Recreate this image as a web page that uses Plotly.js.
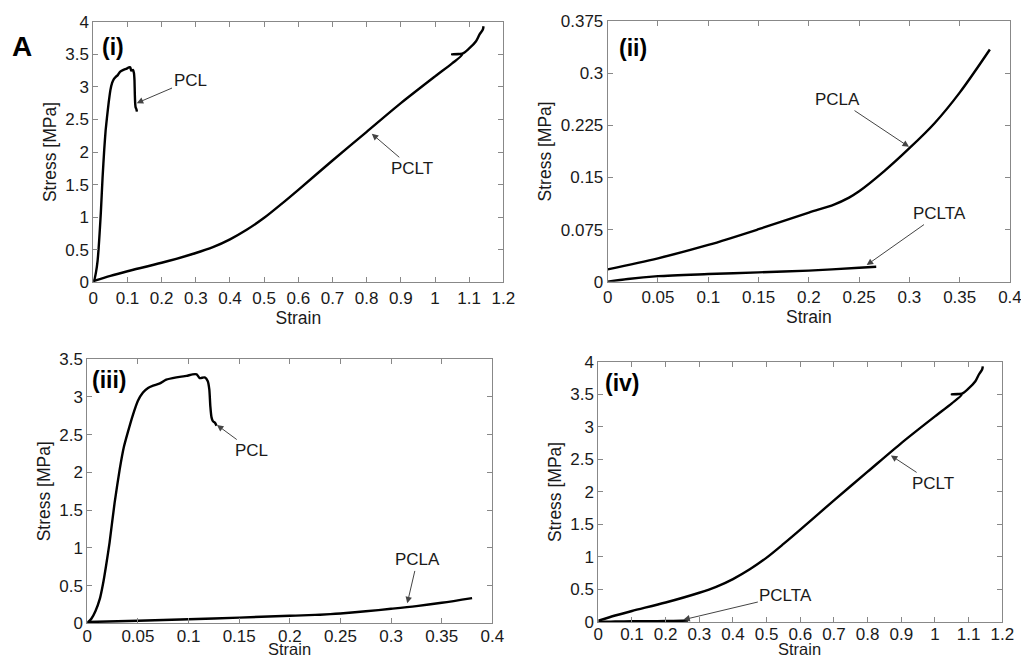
<!DOCTYPE html>
<html>
<head>
<meta charset="utf-8">
<script src="https://cdn.plot.ly/plotly-3.0.1.min.js"></script>
<style>html,body{margin:0;padding:0;background:#fff;}#chart{width:1021px;height:659px;}</style>
</head>
<body>
<div id="chart"></div>
<script>
// ---- Data ----
const pclStrain = [0, 0.004, 0.008, 0.0125, 0.0155, 0.0185, 0.022, 0.027, 0.032, 0.036, 0.04, 0.045, 0.05, 0.055, 0.06, 0.065, 0.0717, 0.078, 0.088, 0.098, 0.104, 0.108, 0.111, 0.116, 0.119, 0.1205, 0.1215, 0.1227, 0.124, 0.126, 0.1276];
const pclStress = [0, 0.06, 0.16, 0.33, 0.52, 0.76, 1.07, 1.6, 2.04, 2.33, 2.53, 2.76, 2.95, 3.06, 3.12, 3.15, 3.18, 3.23, 3.26, 3.28, 3.30, 3.30, 3.25, 3.26, 3.21, 3.10, 2.88, 2.73, 2.68, 2.66, 2.62];

const pcltStrain = [0, 0.05, 0.1, 0.2, 0.3, 0.35, 0.4, 0.45, 0.5, 0.55, 0.6, 0.7, 0.8, 0.9, 1.0, 1.05, 1.08, 1.05, 1.08, 1.1, 1.12, 1.13, 1.14, 1.142];
const pcltStress = [0.02, 0.1, 0.17, 0.30, 0.45, 0.54, 0.66, 0.81, 0.99, 1.2, 1.42, 1.87, 2.31, 2.75, 3.16, 3.36, 3.50, 3.50, 3.51, 3.59, 3.70, 3.80, 3.88, 3.93];

const pclaStrain = [0, 0.05, 0.1, 0.15, 0.2, 0.225, 0.24, 0.25, 0.275, 0.3, 0.325, 0.35, 0.38];
const pclaStress = [0.0178, 0.0337, 0.0529, 0.0755, 0.0995, 0.111, 0.121, 0.13, 0.159, 0.192, 0.228, 0.272, 0.334];

const pcltaStrain = [0, 0.02, 0.05, 0.1, 0.15, 0.2, 0.25, 0.267];
const pcltaStress = [0, 0.004, 0.008, 0.011, 0.0135, 0.016, 0.020, 0.0215];

const ticksStrainWide = [0, 0.1, 0.2, 0.3, 0.4, 0.5, 0.6, 0.7, 0.8, 0.9, 1, 1.1, 1.2];
const ticksStrainWideText = ["0", "0.1", "0.2", "0.3", "0.4", "0.5", "0.6", "0.7", "0.8", "0.9", "1", "1.1", "1.2"];
const ticksStrainNarrow = [0, 0.05, 0.1, 0.15, 0.2, 0.25, 0.3, 0.35, 0.4];
const ticksStrainNarrowText = ["0", "0.05", "0.1", "0.15", "0.2", "0.25", "0.3", "0.35", "0.4"];
const ticksStress4 = [0, 0.5, 1, 1.5, 2, 2.5, 3, 3.5, 4];
const ticksStress4Text = ["0", "0.5", "1", "1.5", "2", "2.5", "3", "3.5", "4"];
const ticksStress35 = [0, 0.5, 1, 1.5, 2, 2.5, 3, 3.5];
const ticksStress35Text = ["0", "0.5", "1", "1.5", "2", "2.5", "3", "3.5"];
const ticksStressSmall = [0, 0.075, 0.15, 0.225, 0.3, 0.375];
const ticksStressSmallText = ["0", "0.075", "0.15", "0.225", "0.3", "0.375"];

// ---- Plot ----
const FONT = "Arial, 'Liberation Sans', sans-serif";
function tr(x, y, xa, ya, name, smooth) {
  const line = {color: '#000', width: 2.4};
  if (smooth) { line.shape = 'spline'; line.smoothing = smooth; }
  return {x: x, y: y, xaxis: xa, yaxis: ya, type: 'scatter', mode: 'lines', line: line, name: name, showlegend: false, hoverinfo: 'skip'};
}
const data = [
  tr(pclStrain, pclStress, 'x', 'y', 'PCL', 0.5),
  tr(pcltStrain, pcltStress, 'x', 'y', 'PCLT', 0.8),
  tr(pclaStrain, pclaStress, 'x2', 'y2', 'PCLA', 0.9),
  tr(pcltaStrain, pcltaStress, 'x2', 'y2', 'PCLTA', 0.8),
  tr(pclStrain, pclStress, 'x3', 'y3', 'PCL', 0.5),
  tr(pclaStrain, pclaStress, 'x3', 'y3', 'PCLA', 0.9),
  tr(pcltStrain, pcltStress, 'x4', 'y4', 'PCLT', 0.8),
  tr(pcltaStrain, pcltaStress, 'x4', 'y4', 'PCLTA', 0.8)
];

function axis(domain, range, tv, tt, title, anchor, standoff, labelShift) {
  return {
    domain: domain, range: range, anchor: anchor,
    tickmode: 'array', tickvals: tv, ticktext: tt,
    ticks: 'inside', ticklen: 5, tickwidth: 1, tickcolor: '#888',
    showline: true, linecolor: '#888', linewidth: 1, mirror: 'ticks',
    showgrid: false, zeroline: false, ticklabeloverflow: 'allow',
    ticklabelstandoff: labelShift || 0,
    tickfont: {family: FONT, size: 17, color: '#1a1a1a'},
    title: {text: title, font: {family: FONT, size: 17.5, color: '#1a1a1a'}, standoff: standoff},
    fixedrange: true
  };
}

function ann(xr, yr, x, y, ax, ay, text) {
  return {xref: xr, yref: yr, axref: xr, ayref: yr, x: x, y: y, ax: ax, ay: ay, text: text,
    showarrow: true, arrowhead: 2, arrowsize: 1.3, arrowwidth: 1, arrowcolor: '#444', standoff: 0,
    font: {family: FONT, size: 17, color: '#1a1a1a'}};
}
function label(x, y, text, size) {
  return {xref: 'paper', yref: 'paper', x: x, y: y, xanchor: 'center', yanchor: 'middle', showarrow: false,
    text: '<b>' + text + '</b>', font: {family: FONT, size: size, color: '#000'}};
}
function bottomTitle(x, text) {
  return {xref: 'paper', yref: 'paper', x: x, y: 0, xanchor: 'center', yanchor: 'bottom', showarrow: false,
    borderpad: 0, text: text, font: {family: FONT, size: 16.5, color: '#1a1a1a'}};
}

const layout = {
  width: 1021, height: 659,
  margin: {l: 0, r: 0, t: 0, b: 0},
  paper_bgcolor: '#fff', plot_bgcolor: '#fff',
  showlegend: false,
  xaxis: axis([0.0914, 0.4930], [0, 1.2], ticksStrainWide, ticksStrainWideText, 'Strain', 'y', 0),
  yaxis: axis([0.5716, 0.9671], [0, 4], ticksStress4, ticksStress4Text, 'Stress [MPa]', 'x', 4),
  xaxis2: axis([0.5952, 0.9892], [0, 0.4], ticksStrainNarrow, ticksStrainNarrowText, 'Strain', 'y2', 0),
  yaxis2: axis([0.5725, 0.9681], [0, 0.375], ticksStressSmall, ticksStressSmallText, 'Stress [MPa]', 'x2', 4),
  xaxis3: axis([0.0855, 0.4822], [0, 0.4], ticksStrainNarrow, ticksStrainNarrowText, '', 'y3', 0, -3),
  yaxis3: axis([0.0542, 0.4548], [0, 3.5], ticksStress35, ticksStress35Text, 'Stress [MPa]', 'x3', 4),
  xaxis4: axis([0.5860, 0.9817], [0, 1.2], ticksStrainWide, ticksStrainWideText, '', 'y4', 0, -3),
  yaxis4: axis([0.0561, 0.4511], [0, 4], ticksStress4, ticksStress4Text, 'Stress [MPa]', 'x4', 4),
  annotations: [
    ann('x', 'y', 0.127, 2.75, 0.283, 3.1, 'PCL'),
    ann('x', 'y', 0.815, 2.28, 0.933, 1.75, 'PCLT'),
    ann('x2', 'y2', 0.2996, 0.194, 0.229, 0.262, 'PCLA'),
    ann('x2', 'y2', 0.2575, 0.024, 0.33, 0.098, 'PCLTA'),
    ann('x3', 'y3', 0.128, 2.63, 0.1623, 2.29, 'PCL'),
    ann('x3', 'y3', 0.316, 0.265, 0.326, 0.84, 'PCLA'),
    ann('x4', 'y4', 0.869, 2.56, 0.995, 2.13, 'PCLT'),
    ann('x4', 'y4', 0.2525, 0.035, 0.557, 0.41, 'PCLTA'),
    bottomTitle(0.2835, 'Strain'),
    bottomTitle(0.7826, 'Strain'),
    label(0.0215, 0.9287, 'A', 28),
    label(0.1107, 0.9287, '(i)', 23),
    label(0.620, 0.927, '(ii)', 23),
    label(0.1077, 0.4234, '(iii)', 23),
    label(0.610, 0.419, '(iv)', 23)
  ]
};

Plotly.newPlot('chart', data, layout, {displayModeBar: false, staticPlot: true});
</script>
</body>
</html>
